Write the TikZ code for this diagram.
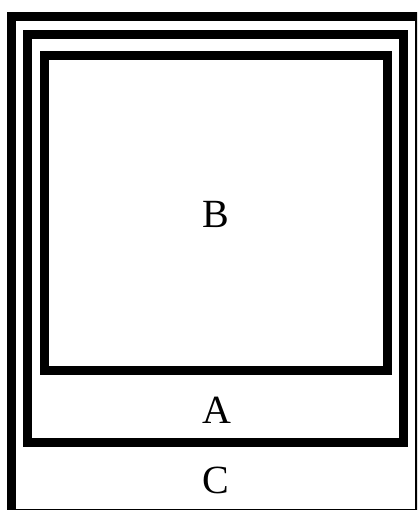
\documentclass[tikz,border=0pt]{standalone}
\usepackage{fontspec}
\setmainfont{Liberation Serif}
\begin{document}
\begin{tikzpicture}[x=1pt,y=-1pt,
  frame/.style={draw=black,line width=9pt,line join=miter},
  lbl/.style={anchor=base,inner sep=0pt,font=\fontsize{40}{40}\selectfont}]
\useasboundingbox (0,0) rectangle (417,510);
\fill[white] (0,0) rectangle (417,510);
\clip (0,0) rectangle (417,510);
\draw[frame] (11.5,17) rectangle (419.5,513);
\draw[frame] (27.5,35) rectangle (403.5,442.5);
\draw[frame] (44,55.5) rectangle (387.5,370.5);
\node[lbl] (B) at (216,228) {B};
\node[lbl] (A) at (217,423) {A};
\node[lbl] (C) at (216,493) {C};
\end{tikzpicture}
\end{document}
